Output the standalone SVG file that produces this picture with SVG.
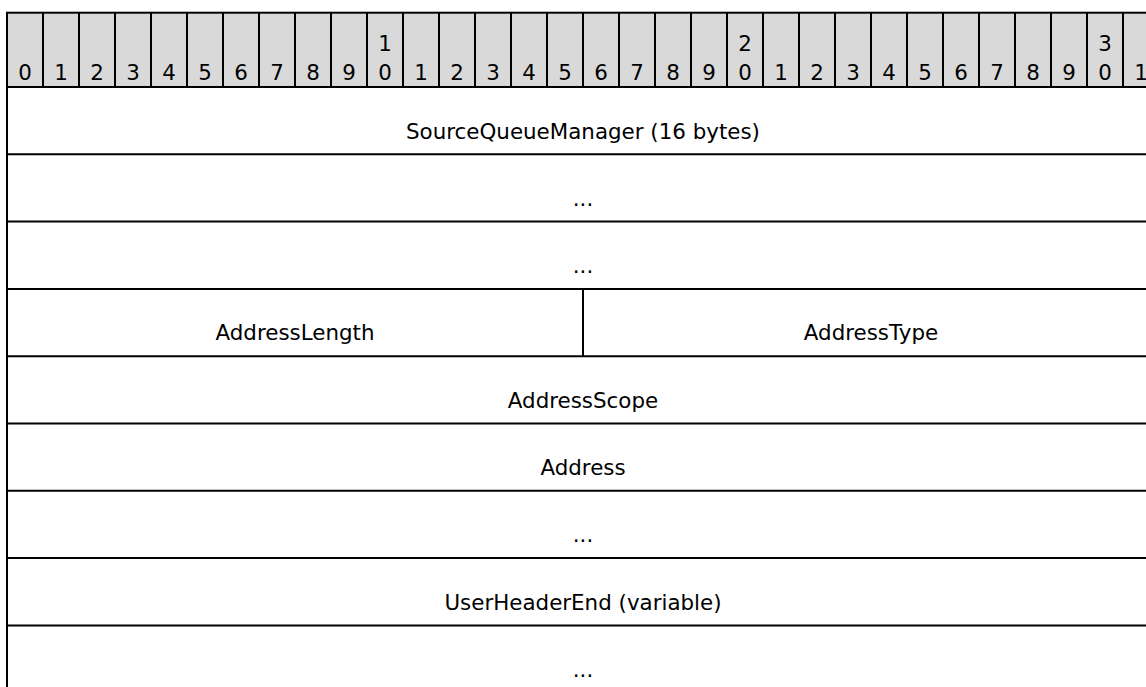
<svg xmlns="http://www.w3.org/2000/svg" width="1146" height="687" viewBox="0 0 1146 687">
<style>
.t{font-family:"DejaVu Sans",Verdana,sans-serif;font-size:21.4px;fill:#000;text-anchor:middle}
.h{fill:#d9d9d9;stroke:#000;stroke-width:2}
.l{stroke:#000;stroke-width:2;fill:none}
</style>
<rect width="1146" height="687" fill="#fff"/>
<g id="header">
<rect class="h" x="7" y="12.7" width="1152" height="74.3"/>
<path class="l" d="M43 12.7V87M79 12.7V87M115 12.7V87M151 12.7V87M187 12.7V87M223 12.7V87M259 12.7V87M295 12.7V87M331 12.7V87M367 12.7V87M403 12.7V87M439 12.7V87M475 12.7V87M511 12.7V87M547 12.7V87M583 12.7V87M619 12.7V87M655 12.7V87M691 12.7V87M727 12.7V87M763 12.7V87M799 12.7V87M835 12.7V87M871 12.7V87M907 12.7V87M943 12.7V87M979 12.7V87M1015 12.7V87M1051 12.7V87M1087 12.7V87M1123 12.7V87"/>
<g class="t">
<text x="25" y="80">0</text><text x="61" y="80">1</text><text x="97" y="80">2</text><text x="133" y="80">3</text><text x="169" y="80">4</text><text x="205" y="80">5</text><text x="241" y="80">6</text><text x="277" y="80">7</text><text x="313" y="80">8</text><text x="349" y="80">9</text>
<text x="385" y="51">1</text><text x="385" y="80">0</text>
<text x="421" y="80">1</text><text x="457" y="80">2</text><text x="493" y="80">3</text><text x="529" y="80">4</text><text x="565" y="80">5</text><text x="601" y="80">6</text><text x="637" y="80">7</text><text x="673" y="80">8</text><text x="709" y="80">9</text>
<text x="745" y="51">2</text><text x="745" y="80">0</text>
<text x="781" y="80">1</text><text x="817" y="80">2</text><text x="853" y="80">3</text><text x="889" y="80">4</text><text x="925" y="80">5</text><text x="961" y="80">6</text><text x="997" y="80">7</text><text x="1033" y="80">8</text><text x="1069" y="80">9</text>
<text x="1105" y="51">3</text><text x="1105" y="80">0</text>
<text x="1141" y="80">1</text>
</g>
</g>
<g id="grid">
<path class="l" d="M7 87V700M7 154.3H1146M7 221.6H1146M7 288.9H1146M7 356.2H1146M7 423.5H1146M7 490.8H1146M7 558.1H1146M7 625.4H1146M583 288.9V356.2"/>
</g>
<g id="f1"><text class="t" x="583" y="138.5">SourceQueueManager (16 bytes)</text></g>
<g id="f2"><text class="t" x="583" y="205.8">...</text></g>
<g id="f3"><text class="t" x="583" y="273.1">...</text></g>
<g id="f4"><text class="t" x="295" y="340.4">AddressLength</text></g>
<g id="f5"><text class="t" x="871" y="340.4">AddressType</text></g>
<g id="f6"><text class="t" x="583" y="407.7">AddressScope</text></g>
<g id="f7"><text class="t" x="583" y="475">Address</text></g>
<g id="f8"><text class="t" x="583" y="542.3">...</text></g>
<g id="f9"><text class="t" x="583" y="609.6">UserHeaderEnd (variable)</text></g>
<g id="f10"><text class="t" x="583" y="676.9">...</text></g>
</svg>
